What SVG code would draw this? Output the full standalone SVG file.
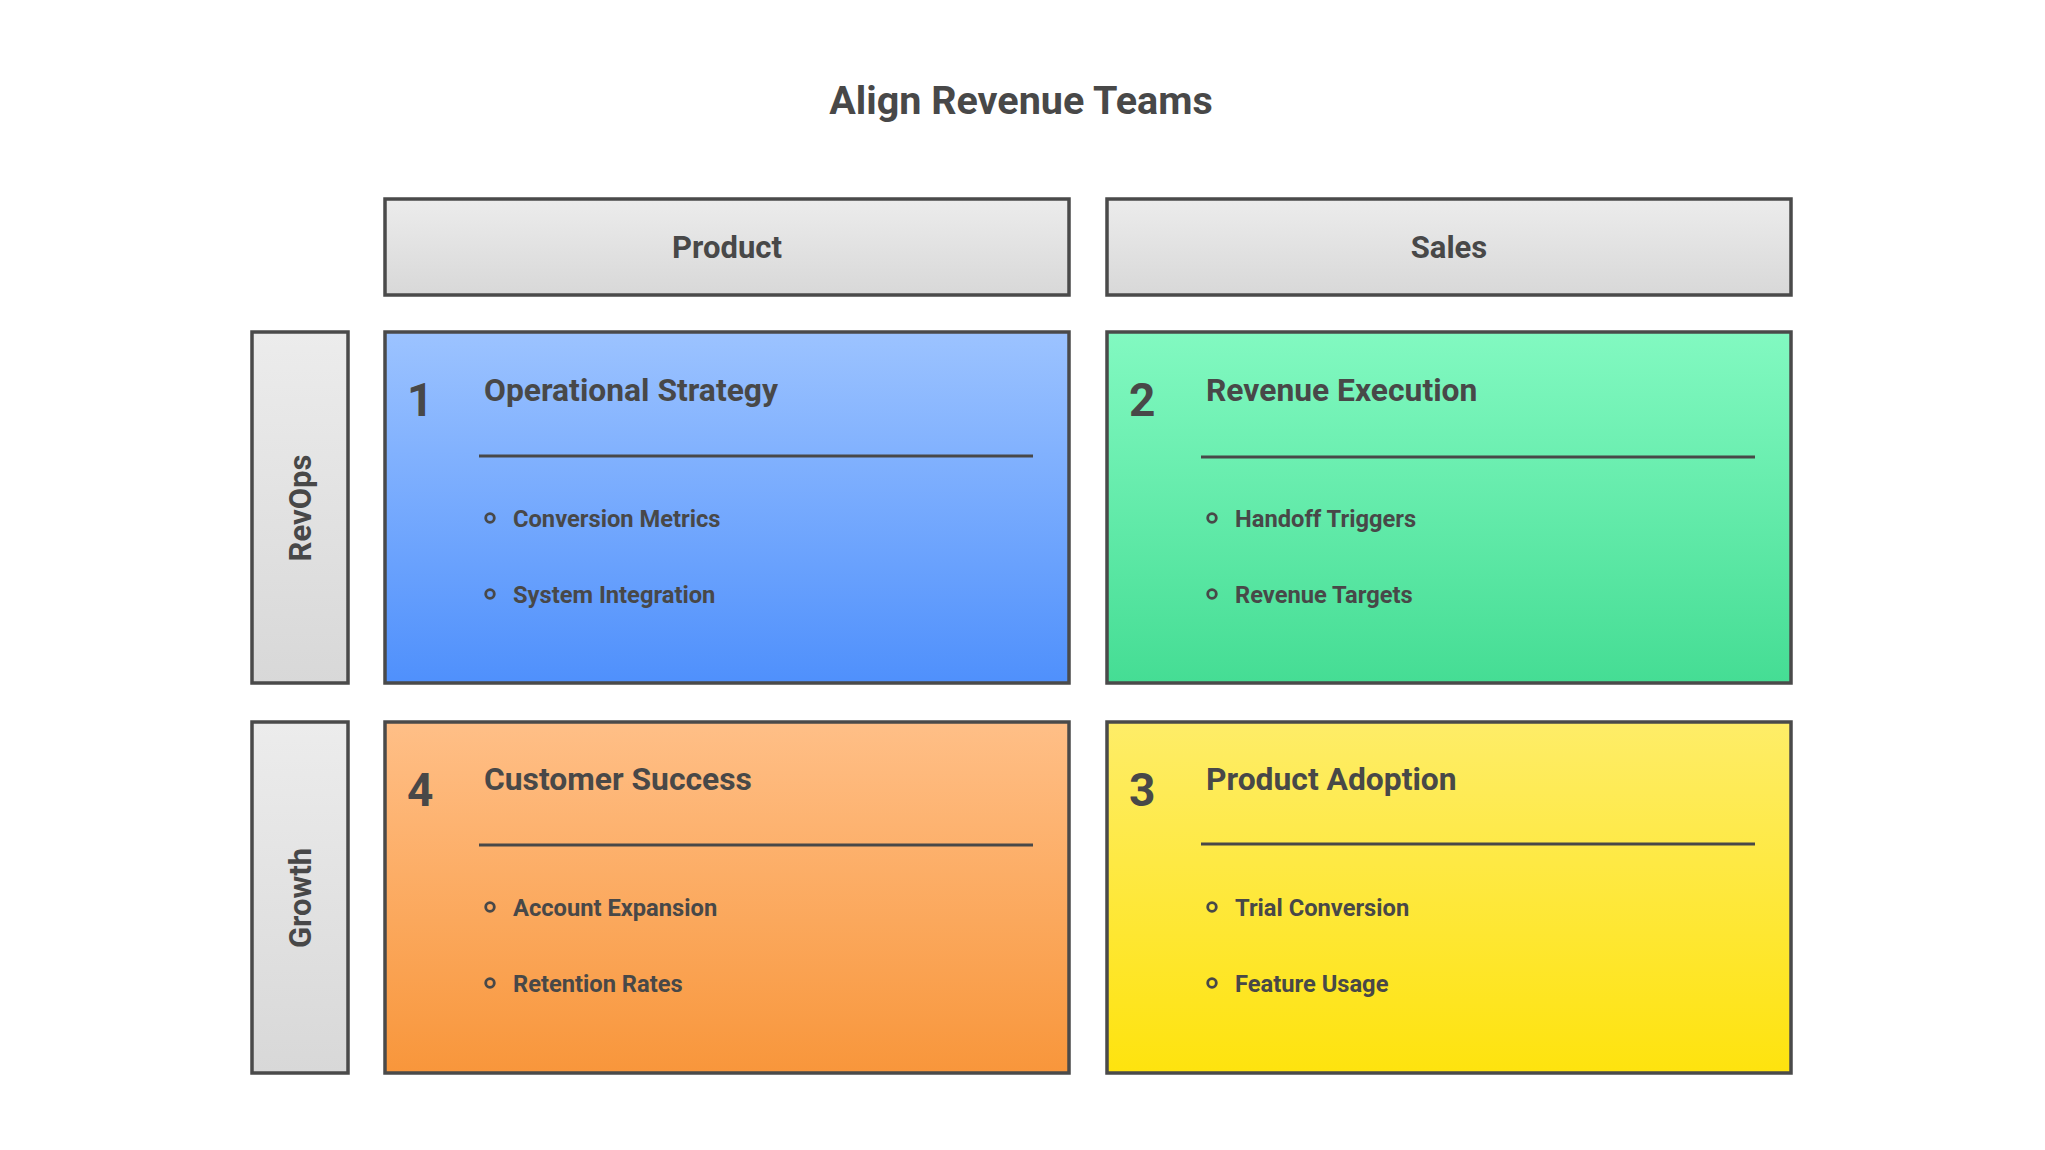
<svg xmlns="http://www.w3.org/2000/svg" width="2045" height="1150" viewBox="0 0 2045 1150">
  <defs>
    <linearGradient id="gGray" x1="0" y1="0" x2="0" y2="1">
      <stop offset="0" stop-color="#ececec"/>
      <stop offset="1" stop-color="#d8d8d8"/>
    </linearGradient>
    <linearGradient id="gBlue" x1="0" y1="0" x2="0" y2="1">
      <stop offset="0" stop-color="#9cc3ff"/>
      <stop offset="1" stop-color="#4f90fc"/>
    </linearGradient>
    <linearGradient id="gGreen" x1="0" y1="0" x2="0" y2="1">
      <stop offset="0" stop-color="#82f9c1"/>
      <stop offset="1" stop-color="#45dd94"/>
    </linearGradient>
    <linearGradient id="gOrange" x1="0" y1="0" x2="0" y2="1">
      <stop offset="0" stop-color="#ffbf87"/>
      <stop offset="1" stop-color="#f8963b"/>
    </linearGradient>
    <linearGradient id="gYellow" x1="0" y1="0" x2="0" y2="1">
      <stop offset="0" stop-color="#feed68"/>
      <stop offset="1" stop-color="#fee30e"/>
    </linearGradient>
  </defs>
  <style>
    text { font-family: Roboto, "Liberation Sans", sans-serif; fill: #484848; font-weight: 700; }
    .box { stroke: #4a4a4a; stroke-width: 3.5; }
    .title { font-size: 39.5px; text-anchor: middle; }
    .hdr { font-size: 31px; text-anchor: middle; }
    .num { font-size: 46px; }
    .qt { font-size: 31.8px; }
    .item { font-size: 23.7px; }
    .div { stroke: #484848; stroke-width: 3; }
    .dot { fill: none; stroke: #484848; stroke-width: 2.8; }
  </style>
  <rect width="2045" height="1150" fill="#ffffff"/>

  <text id="title" class="title" x="1021" y="114">Align Revenue Teams</text>

  <g id="header-product">
    <rect class="box" x="385" y="199" width="684" height="96" fill="url(#gGray)"/>
    <text class="hdr" x="727" y="258">Product</text>
  </g>
  <g id="header-sales">
    <rect class="box" x="1107" y="199" width="684" height="96" fill="url(#gGray)"/>
    <text class="hdr" x="1449" y="258">Sales</text>
  </g>

  <g id="row-revops">
    <rect class="box" x="252" y="332" width="96" height="351" fill="url(#gGray)"/>
    <text class="hdr" transform="translate(311,508) rotate(-90)" x="0" y="0">RevOps</text>
  </g>
  <g id="row-growth">
    <rect class="box" x="252" y="722" width="96" height="351" fill="url(#gGray)"/>
    <text class="hdr" transform="translate(311,898) rotate(-90)" x="0" y="0">Growth</text>
  </g>

  <g id="q1">
    <rect class="box" x="385" y="332" width="684" height="351" fill="url(#gBlue)"/>
    <text class="num" x="407" y="416">1</text>
    <text class="qt" x="484" y="401">Operational Strategy</text>
    <line class="div" x1="479" y1="456" x2="1033" y2="456"/>
    <circle class="dot" cx="490" cy="518" r="4.3"/>
    <text class="item" x="513" y="527">Conversion Metrics</text>
    <circle class="dot" cx="490" cy="594" r="4.3"/>
    <text class="item" x="513" y="603">System Integration</text>
  </g>

  <g id="q2">
    <rect class="box" x="1107" y="332" width="684" height="351" fill="url(#gGreen)"/>
    <text class="num" x="1129" y="416">2</text>
    <text class="qt" x="1206" y="401">Revenue Execution</text>
    <line class="div" x1="1201" y1="457" x2="1755" y2="457"/>
    <circle class="dot" cx="1212" cy="518" r="4.3"/>
    <text class="item" x="1235" y="527">Handoff Triggers</text>
    <circle class="dot" cx="1212" cy="594" r="4.3"/>
    <text class="item" x="1235" y="603">Revenue Targets</text>
  </g>

  <g id="q4">
    <rect class="box" x="385" y="722" width="684" height="351" fill="url(#gOrange)"/>
    <text class="num" x="407" y="806">4</text>
    <text class="qt" x="484" y="790">Customer Success</text>
    <line class="div" x1="479" y1="845" x2="1033" y2="845"/>
    <circle class="dot" cx="490" cy="907" r="4.3"/>
    <text class="item" x="513" y="916">Account Expansion</text>
    <circle class="dot" cx="490" cy="983" r="4.3"/>
    <text class="item" x="513" y="992">Retention Rates</text>
  </g>

  <g id="q3">
    <rect class="box" x="1107" y="722" width="684" height="351" fill="url(#gYellow)"/>
    <text class="num" x="1129" y="806">3</text>
    <text class="qt" x="1206" y="790">Product Adoption</text>
    <line class="div" x1="1201" y1="844" x2="1755" y2="844"/>
    <circle class="dot" cx="1212" cy="907" r="4.3"/>
    <text class="item" x="1235" y="916">Trial Conversion</text>
    <circle class="dot" cx="1212" cy="983" r="4.3"/>
    <text class="item" x="1235" y="992">Feature Usage</text>
  </g>

  <g id="connectors"></g>
</svg>
